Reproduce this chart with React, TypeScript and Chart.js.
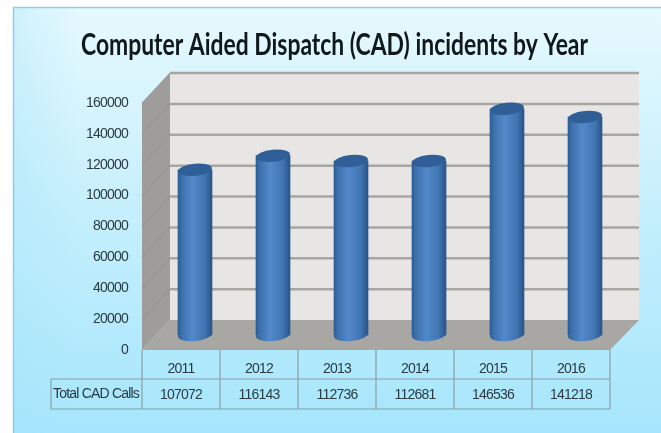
import { useEffect, useRef } from "react";
import { Chart, registerables } from "chart.js";

Chart.register(...registerables);

const titleText = "Computer Aided Dispatch (CAD) incidents by Year";
const years = ["2011", "2012", "2013", "2014", "2015", "2016"];
const totalCadCalls = [107072, 116143, 112736, 112681, 146536, 141218];
const rowLabel = "Total CAD Calls";

// Depth of the drawn box: back wall sits up and to the right of the front plane.
const DEPTH_X = 28;
const DEPTH_Y = -30;
const TEXT_COLOR = "#2b3b40";
const FONT_FAMILY = '"Liberation Sans", sans-serif';
const TICK_SIZE = 14;

function capPath(ctx: CanvasRenderingContext2D, x: number, y: number, w: number) {
  ctx.beginPath();
  ctx.ellipse(x, y, w / 2, 6, (-6 * Math.PI) / 180, 0, Math.PI * 2);
}

function bodyGradient(ctx: CanvasRenderingContext2D, x: number, w: number) {
  const g = ctx.createLinearGradient(x - w / 2, 0, x + w / 2, 0);
  g.addColorStop(0, "#2c5c96");
  g.addColorStop(0.1, "#3c70aa");
  g.addColorStop(0.42, "#5289ca");
  g.addColorStop(0.78, "#4176b3");
  g.addColorStop(1, "#28548b");
  return g;
}

const cardPlugin = {
  id: "card",
  beforeDraw(chart: any) {
    const { ctx, width, height } = chart;
    const g = ctx.createLinearGradient(0, 7, 0, height);
    g.addColorStop(0, "#e6f9fe");
    g.addColorStop(0.5, "#c4effc");
    g.addColorStop(1, "#a6e6fc");
    ctx.save();
    ctx.fillStyle = "#ffffff";
    ctx.fillRect(0, 0, width, height);
    ctx.fillStyle = g;
    ctx.fillRect(13, 7, width - 13, height - 7);
    // slightly deeper tint along the left edge of the card
    const edge = ctx.createLinearGradient(13, 0, 80, 0);
    edge.addColorStop(0, "rgba(165,228,250,0.35)");
    edge.addColorStop(1, "rgba(165,228,250,0)");
    ctx.fillStyle = edge;
    ctx.fillRect(13, 7, 67, height - 7);
    ctx.strokeStyle = "#8fd0e0";
    ctx.lineWidth = 1.5;
    ctx.beginPath();
    ctx.moveTo(13.5, height);
    ctx.lineTo(13.5, 7.5);
    ctx.lineTo(width, 7.5);
    ctx.stroke();
    ctx.fillStyle = "#10181c";
    ctx.font = "bold 30px Lato, sans-serif";
    ctx.textAlign = "center";
    ctx.textBaseline = "alphabetic";
    ctx.fillText(titleText, 334.5, 55, 507);
    ctx.restore();
    // tightens the axis and table digits
    ctx.letterSpacing = "-0.8px";
  },
};

const boxPlugin = {
  id: "box",
  beforeDatasetsDraw(chart: any) {
    const { ctx, chartArea: a, scales } = chart;
    const y = scales.y;
    const backL = a.left + DEPTH_X;
    const backR = a.right + DEPTH_X + 1;
    ctx.save();
    // back wall
    ctx.fillStyle = "#e7e6e5";
    ctx.fillRect(backL, a.top + DEPTH_Y, backR - backL, a.bottom - a.top);
    // side wall
    ctx.fillStyle = "#9f9d9b";
    ctx.beginPath();
    ctx.moveTo(a.left, a.top);
    ctx.lineTo(backL, a.top + DEPTH_Y);
    ctx.lineTo(backL, a.bottom + DEPTH_Y);
    ctx.lineTo(a.left, a.bottom);
    ctx.closePath();
    ctx.fill();
    // floor
    ctx.fillStyle = "#a9a7a4";
    ctx.beginPath();
    ctx.moveTo(a.left, a.bottom);
    ctx.lineTo(backL, a.bottom + DEPTH_Y);
    ctx.lineTo(backR, a.bottom + DEPTH_Y);
    ctx.lineTo(a.right, a.bottom);
    ctx.closePath();
    ctx.fill();
    // gridlines along the back wall and down the side wall
    y.ticks.forEach((t: any) => {
      const py = y.getPixelForValue(t.value);
      if (t.value === 0) return;
      ctx.strokeStyle = "#a9a6a2";
      ctx.lineWidth = 2.5;
      ctx.beginPath();
      ctx.moveTo(backL, py + DEPTH_Y);
      ctx.lineTo(backR, py + DEPTH_Y);
      ctx.stroke();
      ctx.strokeStyle = "#979593";
      ctx.lineWidth = 1;
      ctx.beginPath();
      ctx.moveTo(a.left, py);
      ctx.lineTo(backL, py + DEPTH_Y);
      ctx.stroke();
    });
    ctx.restore();
  },
  // Bars stand halfway into the box, so each dataset is drawn in a shifted frame.
  beforeDatasetDraw(chart: any, args: any) {
    const { ctx } = chart;
    ctx.save();
    ctx.translate(DEPTH_X / 2, DEPTH_Y / 2);
    args.meta.data.forEach((bar: any) => {
      const { x, base, width } = bar.getProps(["x", "base", "width"], true);
      capPath(ctx, x, base, width);
      ctx.fillStyle = bodyGradient(ctx, x, width);
      ctx.fill();
    });
  },
  afterDatasetDraw(chart: any, args: any) {
    const { ctx } = chart;
    args.meta.data.forEach((bar: any) => {
      const { x, y, width } = bar.getProps(["x", "y", "width"], true);
      capPath(ctx, x, y, width);
      ctx.fillStyle = "#2f5f96";
      ctx.fill();
    });
    ctx.restore();
  },
};

const tablePlugin = {
  id: "dataTable",
  afterDraw(chart: any) {
    const { ctx, chartArea: a, scales } = chart;
    const rowTop = a.bottom + 29;
    const rowBottom = a.bottom + 59;
    const labelLeft = 51;
    const step = (a.right - a.left) / years.length;
    ctx.save();
    ctx.strokeStyle = "#8b9ea4";
    ctx.lineWidth = 1.2;
    ctx.beginPath();
    ctx.moveTo(labelLeft, rowTop);
    ctx.lineTo(a.right, rowTop);
    ctx.moveTo(labelLeft, rowBottom);
    ctx.lineTo(a.right, rowBottom);
    ctx.moveTo(labelLeft, rowTop);
    ctx.lineTo(labelLeft, rowBottom);
    for (let i = 0; i <= years.length; i++) {
      ctx.moveTo(a.left + i * step, a.bottom);
      ctx.lineTo(a.left + i * step, rowBottom);
    }
    ctx.stroke();
    ctx.fillStyle = TEXT_COLOR;
    ctx.font = `${TICK_SIZE}px ${FONT_FAMILY}`;
    ctx.textAlign = "center";
    ctx.textBaseline = "middle";
    ctx.fillText(rowLabel, 96, rowTop + 15, 86);
    totalCadCalls.forEach((v, i) => {
      ctx.fillText(String(v), scales.x.getPixelForValue(i), rowTop + 16);
    });
    ctx.restore();
  },
};

export default function App() {
  const ref = useRef<HTMLCanvasElement>(null);

  useEffect(() => {
    const chart = new Chart(ref.current!, {
      type: "bar",
      data: {
        labels: years,
        datasets: [
          {
            label: rowLabel,
            data: totalCadCalls,
            barThickness: 34,
            clip: false,
            backgroundColor: (c: any) => {
              // The dataset-level lookup carries no index, only per-bar lookups do.
              if (typeof c.dataIndex !== "number") return "#3f73b0";
              const xPos = c.chart.scales.x.getPixelForValue(c.dataIndex);
              return Number.isFinite(xPos) ? bodyGradient(c.chart.ctx, xPos, 34) : "#3f73b0";
            },
          },
        ],
      },
      options: {
        animation: false,
        responsive: false,
        layout: { padding: { top: 103, right: 51, left: 0, bottom: 0 } },
        plugins: { legend: { display: false }, title: { display: false }, tooltip: { enabled: false } },
        scales: {
          y: {
            min: 0,
            max: 160000,
            afterFit: (s: any) => {
              s.width = 142;
            },
            ticks: {
              stepSize: 20000,
              padding: 14,
              color: TEXT_COLOR,
              font: { family: FONT_FAMILY, size: TICK_SIZE },
              callback: (v: any) => String(v),
            },
            grid: { display: false, drawTicks: false },
            border: { display: false },
          },
          x: {
            afterFit: (s: any) => {
              s.height = 83;
            },
            ticks: {
              padding: 11,
              color: TEXT_COLOR,
              font: { family: FONT_FAMILY, size: TICK_SIZE },
            },
            grid: { display: false, drawTicks: false },
            border: { display: false },
          },
        },
      },
      plugins: [cardPlugin, boxPlugin, tablePlugin],
    });
    return () => chart.destroy();
  }, []);

  return (
    <div style={{ position: "fixed", left: 0, top: 0, width: 661, height: 433 }}>
      <canvas ref={ref} width={661} height={433} style={{ display: "block" }} />
    </div>
  );
}
